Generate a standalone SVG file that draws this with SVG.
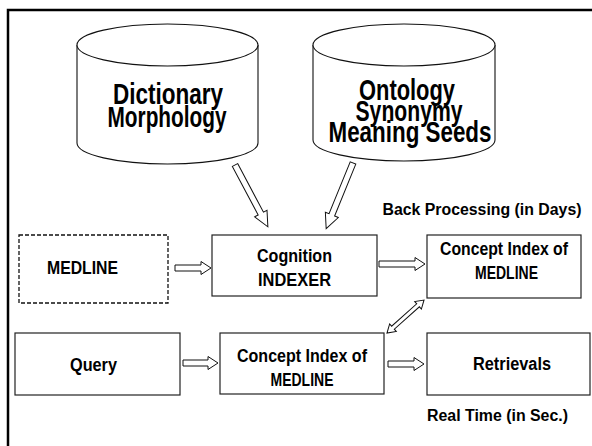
<svg xmlns="http://www.w3.org/2000/svg" width="592" height="446" viewBox="0 0 592 446">
<style>
  .frame{fill:none;stroke:#000;stroke-width:2.5}
  .cyl{fill:#fff;stroke:#111;stroke-width:1.1}
  .box{fill:#fff;stroke:#222;stroke-width:1.2}
  .dash{fill:#fff;stroke:#111;stroke-width:1.3;stroke-dasharray:4 2}
  .arr{fill:#fff;stroke:#111;stroke-width:1}
  text{font-family:"Liberation Sans",Arial,sans-serif;font-weight:bold;fill:#000;text-anchor:middle}
  .big{font-size:30px}
  .lbl{font-size:18px}
  .note{font-size:16px}
</style>
<rect class="frame" x="8" y="10" width="620" height="460"/>

<g id="dictionary">
  <path class="cyl" d="M77,45 L77,143 A90.5,21 0 0,0 258,143 L258,45"/>
  <ellipse class="cyl" cx="167.5" cy="45" rx="90.5" ry="21"/>
  <text class="big" x="168" y="104" textLength="110" lengthAdjust="spacingAndGlyphs">Dictionary</text>
  <text class="big" x="167" y="127" textLength="119" lengthAdjust="spacingAndGlyphs">Morphology</text>
</g>

<g id="ontology">
  <path class="cyl" d="M313,45 L313,140 A91,21 0 0,0 495,140 L495,45"/>
  <ellipse class="cyl" cx="404" cy="45" rx="91" ry="21"/>
  <text class="big" x="407" y="100" textLength="96" lengthAdjust="spacingAndGlyphs">Ontology</text>
  <text class="big" x="409" y="121" textLength="107" lengthAdjust="spacingAndGlyphs">Synonymy</text>
  <text class="big" x="410" y="142" textLength="163" lengthAdjust="spacingAndGlyphs">Meaning Seeds</text>
</g>

<g id="medline">
  <rect class="dash" x="19" y="235" width="149" height="68"/>
  <text class="lbl" x="82.5" y="274" textLength="71" lengthAdjust="spacingAndGlyphs">MEDLINE</text>
</g>

<g id="indexer">
  <rect class="box" x="212" y="235" width="165" height="61"/>
  <text class="lbl" x="294.5" y="262" textLength="75" lengthAdjust="spacingAndGlyphs">Cognition</text>
  <text class="lbl" x="294.5" y="286" textLength="73" lengthAdjust="spacingAndGlyphs">INDEXER</text>
</g>

<g id="concept-index-back">
  <rect class="box" x="427" y="235" width="154" height="63"/>
  <text class="lbl" x="504" y="255" textLength="128" lengthAdjust="spacingAndGlyphs">Concept Index of</text>
  <text class="lbl" x="506.5" y="279" textLength="63" lengthAdjust="spacingAndGlyphs">MEDLINE</text>
</g>

<g id="query">
  <rect class="box" x="15" y="333" width="165" height="62"/>
  <text class="lbl" x="93.5" y="371" textLength="47" lengthAdjust="spacingAndGlyphs">Query</text>
</g>

<g id="concept-index-real">
  <rect class="box" x="220" y="333" width="164" height="61"/>
  <text class="lbl" x="302" y="362" textLength="130" lengthAdjust="spacingAndGlyphs">Concept Index of</text>
  <text class="lbl" x="302" y="386" textLength="63" lengthAdjust="spacingAndGlyphs">MEDLINE</text>
</g>

<g id="retrievals">
  <rect class="box" x="427" y="333" width="163" height="62"/>
  <text class="lbl" x="512" y="370" textLength="78" lengthAdjust="spacingAndGlyphs">Retrievals</text>
</g>

<g id="labels">
  <text class="note" x="482" y="215" textLength="199" lengthAdjust="spacingAndGlyphs">Back Processing (in Days)</text>
  <text class="note" x="497.5" y="421" textLength="141" lengthAdjust="spacingAndGlyphs">Real Time (in Sec.)</text>
</g>

<g id="connectors">
  <path class="arr" transform="translate(235,165) rotate(62)" d="M0,-3 L55,-3 L55,-7 L70,0 L55,7 L55,3 L0,3 Z"/>
  <path class="arr" transform="translate(353,163) rotate(112.2)" d="M0,-3 L56,-3 L56,-7 L71,0 L56,7 L56,3 L0,3 Z"/>
  <path class="arr" transform="translate(175,268)" d="M0,-3 L26,-3 L26,-6.5 L36,0 L26,6.5 L26,3 L0,3 Z"/>
  <path class="arr" transform="translate(379,264)" d="M0,-3 L36,-3 L36,-6.5 L46,0 L36,6.5 L36,3 L0,3 Z"/>
  <path class="arr" transform="translate(183,363)" d="M0,-3 L25,-3 L25,-6.5 L35,0 L25,6.5 L25,3 L0,3 Z"/>
  <path class="arr" transform="translate(388,364)" d="M0,-3 L26,-3 L26,-6.5 L36,0 L26,6.5 L26,3 L0,3 Z"/>
  <path class="arr" transform="translate(387,333) rotate(-41.7)" d="M0,0 L8,-5 L8,-2 L41.6,-2 L41.6,-5 L49.6,0 L41.6,5 L41.6,2 L8,2 L8,5 Z"/>
</g>
</svg>
